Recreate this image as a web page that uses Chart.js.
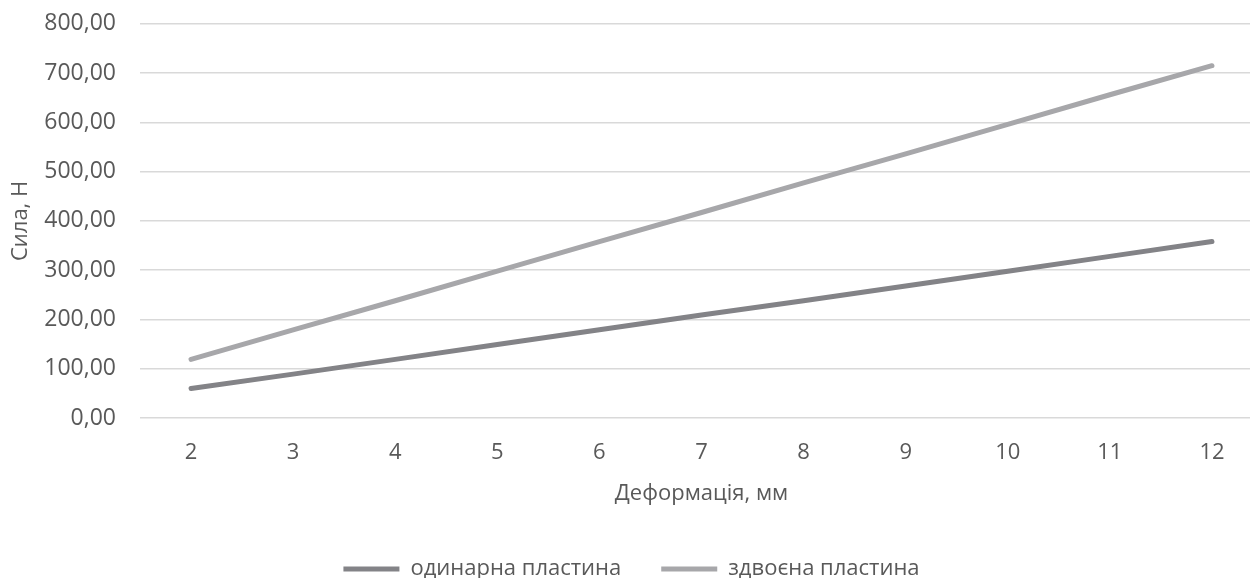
<!DOCTYPE html>
<html lang="uk">
<head>
  <meta charset="UTF-8" />
  <title>Сила від деформації</title>
  <script src="https://cdn.jsdelivr.net/npm/chart.js"></script>
  <style>
    html, body {
      margin: 0;
      padding: 0;
      background: #fff;
      overflow: hidden;
    }
    .chart-box {
      position: relative;
      width: 1263px;
      height: 590px;
    }
  </style>
</head>
<body>
  <div class="chart-box"><canvas id="forceChart"></canvas></div>

  <script>
    // data
    const deformation = ['2', '3', '4', '5', '6', '7', '8', '9', '10', '11', '12'];
    const singlePlate = [60, 89, 119, 149, 179, 209, 238, 268, 298, 328, 358];
    const doublePlate = [119, 179, 238, 298, 358, 417, 477, 536, 596, 656, 715];

    const textColor = '#595959';
    const fontFamily = "'Open Sans', sans-serif";

    Chart.defaults.font.family = fontFamily;
    Chart.defaults.color = textColor;

    new Chart(document.getElementById('forceChart'), {
      type: 'line',
      data: {
        labels: deformation,
        datasets: [
          {
            label: 'одинарна пластина',
            data: singlePlate,
            borderColor: '#838387',
            backgroundColor: '#838387',
            borderWidth: 5,
            borderCapStyle: 'round',
            pointRadius: 0,
            tension: 0
          },
          {
            label: 'здвоєна пластина',
            data: doublePlate,
            borderColor: '#a7a7aa',
            backgroundColor: '#a7a7aa',
            borderWidth: 5,
            borderCapStyle: 'round',
            pointRadius: 0,
            tension: 0
          }
        ]
      },
      options: {
        responsive: true,
        maintainAspectRatio: false,
        animation: false,
        layout: {
          padding: { top: 0, right: 0, bottom: 0, left: 0 }
        },
        plugins: {
          tooltip: { enabled: false },
          legend: {
            position: 'bottom',
            labels: {
              usePointStyle: true,
              pointStyle: 'line',
              pointStyleWidth: 56,
              padding: 40,
              color: textColor,
              font: { size: 22 }
            }
          }
        },
        scales: {
          x: {
            offset: true,
            grid: { display: false, drawTicks: false },
            border: { display: false },
            ticks: {
              padding: 22,
              font: { size: 22 }
            },
            title: {
              display: true,
              text: 'Деформація, мм',
              color: textColor,
              font: { size: 22 },
              padding: { top: 10, bottom: 11 }
            },
            afterFit: scale => { scale.height = 100; }
          },
          y: {
            min: 0,
            max: 800,
            ticks: {
              stepSize: 100,
              padding: 10,
              font: { size: 23 },
              callback: v => v.toFixed(2).replace('.', ',')
            },
            grid: {
              color: '#d9d9d9',
              lineWidth: 1.5,
              drawTicks: true,
              tickLength: 14,
              tickColor: 'rgba(0,0,0,0)'
            },
            border: { display: false },
            title: {
              display: true,
              text: 'Сила, Н',
              color: textColor,
              font: { size: 22 },
              padding: { top: 8, bottom: 0 }
            },
            afterFit: scale => { scale.width = 140; }
          }
        }
      }
    });
  </script>
</body>
</html>
